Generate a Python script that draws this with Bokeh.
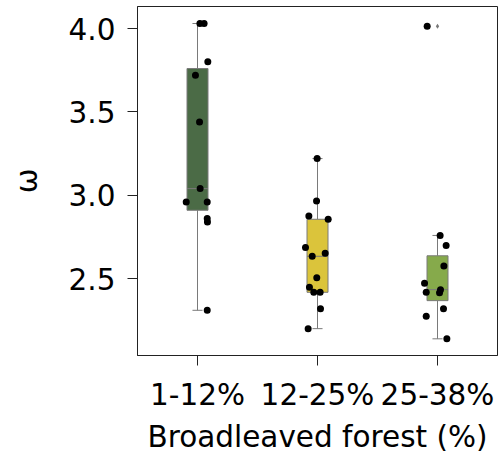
import numpy as np
from bokeh.plotting import figure
from bokeh.models import Range1d, FixedTicker, NumeralTickFormatter, ColumnDataSource
from bokeh.embed import file_html
from bokeh.resources import INLINE

# Broadleaved forest share classes
categories = ["1-12%", "12-25%", "25-38%"]
box_colors = ["#4b6b46", "#dbc43b", "#86aa4b"]

# omega values per class, with the horizontal strip jitter of each point
omega_1_12 = [4.03, 4.03, 3.80, 3.72, 3.44, 3.04, 2.96, 2.96, 2.86, 2.84, 2.31]
jitter_1_12 = [0.02, 0.055, 0.086, -0.017, 0.017, 0.022, -0.094, 0.081, 0.081, 0.083, 0.081]

omega_12_25 = [3.22, 2.966, 2.876, 2.856, 2.686, 2.652, 2.634, 2.506, 2.448, 2.418, 2.418, 2.32, 2.20]
jitter_12_25 = [-0.003, -0.008, -0.072, 0.089, -0.10, 0.064, -0.044, -0.006, -0.067, -0.031, 0.022, 0.025, -0.078]

omega_25_38 = [4.014, 2.759, 2.698, 2.576, 2.472, 2.434, 2.418, 2.416, 2.32, 2.274, 2.139]
jitter_25_38 = [-0.086, 0.022, 0.072, 0.053, -0.108, 0.025, -0.094, 0.017, 0.05, -0.094, 0.078]

groups = [omega_1_12, omega_12_25, omega_25_38]
jitters = [jitter_1_12, jitter_12_25, jitter_25_38]

FONT = "DejaVu Sans"
FONT_SIZE = "29.5px"
BOX_W = 0.175
CAP_W = 0.042
EDGE = "#7a7a7a"

p = figure(
    width=499, height=456,
    x_range=categories,
    y_range=Range1d(2.039, 4.132),
    output_backend="svg", toolbar_location=None,
    min_border_left=137, min_border_right=2,
    min_border_top=6, min_border_bottom=101,
)

# box statistics (quartiles, Tukey whiskers, fliers)
q1s, meds, q3s, lows, highs = [], [], [], [], []
flier_x, flier_y = [], []
for cat, vals in zip(categories, groups):
    v = np.array(vals)
    q1, med, q3 = np.percentile(v, [25, 50, 75])
    iqr = q3 - q1
    inside = v[(v >= q1 - 1.5 * iqr) & (v <= q3 + 1.5 * iqr)]
    q1s.append(q1); meds.append(med); q3s.append(q3)
    lows.append(inside.min()); highs.append(inside.max())
    for o in v[(v < q1 - 1.5 * iqr) | (v > q3 + 1.5 * iqr)]:
        flier_x.append(cat); flier_y.append(o)

stats = ColumnDataSource(dict(
    x=categories, q1=q1s, med=meds, q3=q3s, lo=lows, hi=highs, color=box_colors,
    xl=[(c, -BOX_W / 2) for c in categories], xr=[(c, BOX_W / 2) for c in categories],
    cl=[(c, -CAP_W) for c in categories], cr=[(c, CAP_W) for c in categories],
))

# whiskers and caps
p.segment(x0="x", x1="x", y0="q3", y1="hi", source=stats, line_color=EDGE, line_width=1)
p.segment(x0="x", x1="x", y0="lo", y1="q1", source=stats, line_color=EDGE, line_width=1)
p.segment(x0="cl", x1="cr", y0="hi", y1="hi", source=stats, line_color=EDGE, line_width=1)
p.segment(x0="cl", x1="cr", y0="lo", y1="lo", source=stats, line_color=EDGE, line_width=1)

# boxes and medians
p.vbar(x="x", width=BOX_W, bottom="q1", top="q3", source=stats,
       fill_color="color", line_color=EDGE, line_width=1)
p.segment(x0="xl", x1="xr", y0="med", y1="med", source=stats, line_color=EDGE, line_width=1)

# fliers
p.scatter(x=flier_x, y=flier_y, marker="diamond", size=5,
          fill_color=EDGE, line_color=None)

# individual points
px, py = [], []
for cat, vals, jit in zip(categories, groups, jitters):
    for v, j in zip(vals, jit):
        px.append((cat, j)); py.append(v)
p.scatter(x=px, y=py, size=7, fill_color="black", line_color=None)

# axes styling
p.xgrid.visible = False
p.ygrid.visible = False
p.outline_line_color = "#222222"
p.outline_line_width = 1
p.background_fill_color = "white"
p.border_fill_color = "white"

p.yaxis.ticker = FixedTicker(ticks=[2.5, 3.0, 3.5, 4.0])
p.yaxis.formatter = NumeralTickFormatter(format="0.0")
p.yaxis.axis_label = "ω"
p.xaxis.axis_label = "Broadleaved forest (%)"

for ax in (p.xaxis[0], p.yaxis[0]):
    ax.axis_line_color = "#222222"
    ax.major_tick_line_color = "#222222"
    ax.major_tick_out = 10
    ax.major_tick_in = 0
    ax.minor_tick_line_color = None
    ax.major_label_text_font = FONT
    ax.major_label_text_font_size = FONT_SIZE
    ax.major_label_text_color = "black"
    ax.major_label_standoff = 12
    ax.axis_label_text_font = FONT
    ax.axis_label_text_font_size = FONT_SIZE
    ax.axis_label_text_font_style = "normal"
    ax.axis_label_text_color = "black"
p.yaxis.axis_label_standoff = 22
p.xaxis.axis_label_standoff = 5

open("out.html", "w").write(file_html(p, INLINE))
